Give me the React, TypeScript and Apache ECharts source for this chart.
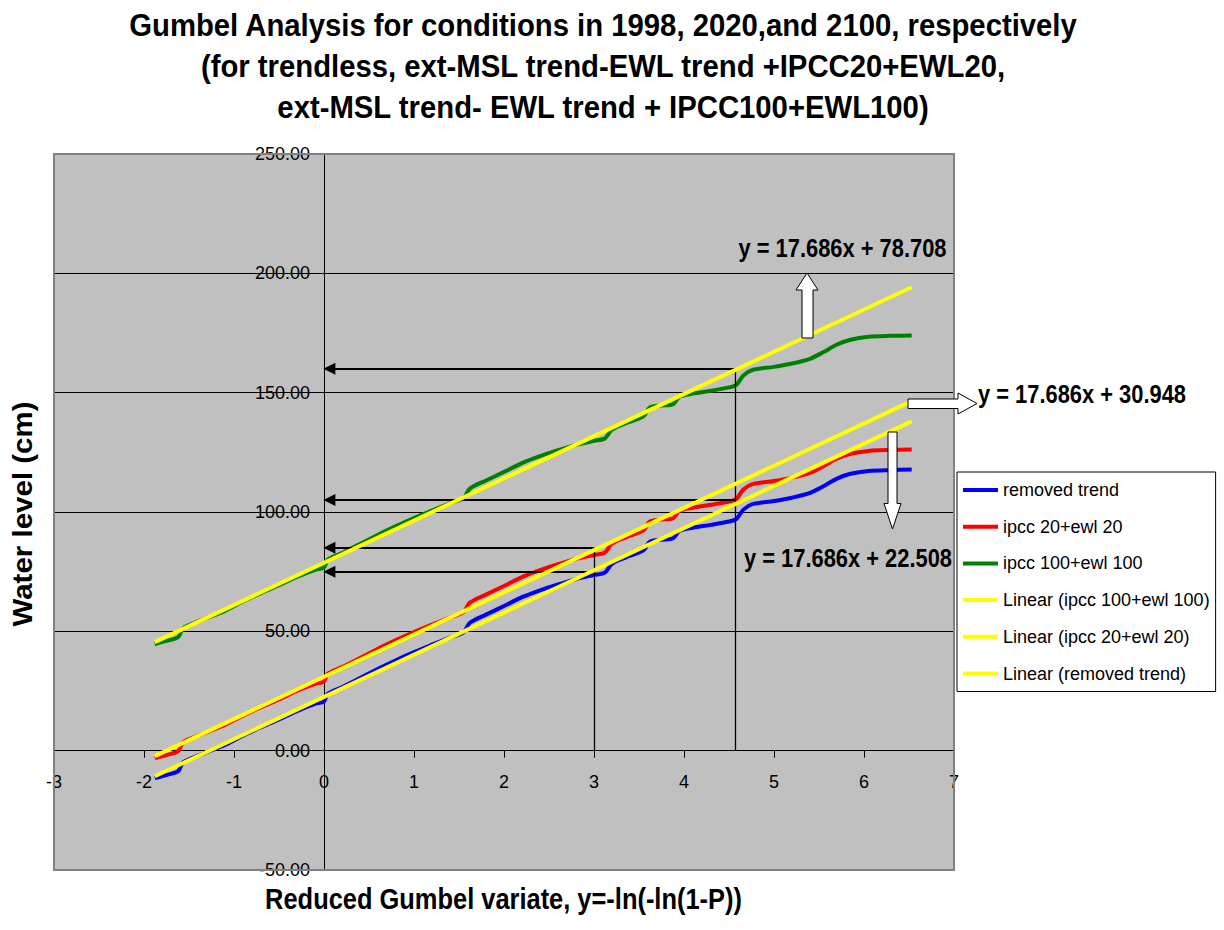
import React, { useEffect, useRef } from "react";
import * as echarts from "echarts";

// ---- data ----
const gumbelX = [-1.88, -1.75, -1.62, -1.57, -1.5, -1.3, -1.1, -0.9, -0.7, -0.5, -0.3, -0.1, 0.0, 0.04, 0.2, 0.4, 0.6, 0.8, 1.0, 1.2, 1.4, 1.55, 1.62, 1.8, 2.0, 2.2, 2.4, 2.6, 2.8, 3.0, 3.12, 3.2, 3.35, 3.55, 3.62, 3.75, 3.88, 3.95, 4.1, 4.3, 4.5, 4.58, 4.66, 4.76, 5.0, 5.2, 5.4, 5.55, 5.7, 5.85, 6.05, 6.3, 6.53];
const removedTrend = [-11.5, -10.2, -8.6, -5.0, -3.6, -0.6, 2.4, 6.3, 9.8, 13.1, 16.6, 19.6, 20.6, 23.8, 26.6, 30.4, 34.3, 37.9, 41.3, 44.4, 47.4, 49.6, 53.6, 57.0, 60.6, 64.3, 67.2, 69.7, 71.9, 73.6, 74.6, 78.3, 80.9, 83.9, 87.6, 88.4, 89.0, 92.1, 93.4, 94.6, 96.0, 97.0, 101.0, 103.3, 104.6, 106.0, 108.0, 110.8, 114.0, 116.0, 117.2, 117.6, 117.8];
const ipcc20 = [-3.1, -1.8, -0.2, 3.4, 4.8, 7.8, 10.8, 14.7, 18.2, 21.5, 25.0, 28.0, 29.0, 32.2, 35.0, 38.8, 42.7, 46.3, 49.7, 52.8, 55.8, 58.0, 62.0, 65.4, 69.0, 72.7, 75.6, 78.1, 80.3, 82.0, 83.0, 86.7, 89.3, 92.3, 96.0, 96.8, 97.4, 100.5, 101.8, 103.0, 104.4, 105.4, 109.4, 111.7, 113.0, 114.4, 116.4, 119.2, 122.4, 124.4, 125.6, 126.0, 126.2];
const ipcc100 = [44.7, 46.0, 47.6, 51.2, 52.6, 55.6, 58.6, 62.5, 66.0, 69.3, 72.8, 75.8, 76.8, 80.0, 82.8, 86.6, 90.5, 94.1, 97.5, 100.6, 103.6, 105.8, 109.8, 113.2, 116.8, 120.5, 123.4, 125.9, 128.1, 129.8, 130.8, 134.5, 137.1, 140.1, 143.8, 144.6, 145.2, 148.3, 149.6, 150.8, 152.2, 153.2, 157.2, 159.5, 160.8, 162.2, 164.2, 167.0, 170.2, 172.2, 173.4, 173.8, 174.0];

// linear trend lines (end points)
const trendX = [-1.88, 6.53];
const trendRemoved = [-10.74, 137.99];
const trend20 = [-2.3, 146.44];
const trend100 = [45.46, 194.19];

const seriesNames = [
  "removed trend",
  "ipcc 20+ewl 20",
  "ipcc 100+ewl 100",
  "Linear (ipcc 100+ewl 100)",
  "Linear (ipcc 20+ewl 20)",
  "Linear (removed trend)",
];

const equationLabels = ["y = 17.686x + 78.708", "y = 17.686x + 30.948", "y = 17.686x + 22.508"];

// reading arrows: level, starting x
const arrowLevels = [160, 105, 85, 75];
const arrowFromX = [4.57, 4.57, 3.0, 2.92];
const dropLinesX = [4.57, 3.0];
const dropLinesTop = [160, 85];

const xTicks = { min: -3, max: 7, step: 1 };
const yTicks = { min: -50, max: 250, step: 50 };

const titleLines = [
  "Gumbel Analysis for conditions in 1998, 2020,and 2100, respectively",
  "(for trendless, ext-MSL trend-EWL trend +IPCC20+EWL20,",
  "ext-MSL trend- EWL trend + IPCC100+EWL100)",
];
const xTitle = "Reduced Gumbel variate, y=-ln(-ln(1-P))";
const yTitle = "Water level (cm)";

const FONT = '"Liberation Sans", Arial, Helvetica, sans-serif';

const GRID = { left: 54, top: 154, width: 900, height: 716 };

function measure(text: string, font: string): number {
  const c = document.createElement("canvas").getContext("2d");
  if (!c) return 1;
  c.font = font;
  return c.measureText(text).width || 1;
}

function fitText(text: string, size: number, target: number, opts: any) {
  const font = `bold ${size}px ${FONT}`;
  const sx = target / measure(text, font);
  return {
    type: "text",
    z: 100,
    scaleX: sx,
    ...opts,
    style: {
      text,
      font,
      fill: "#000",
      align: "center",
      verticalAlign: "middle",
    },
  };
}

function zip(xs: number[], ys: number[]) {
  return xs.map((x, i) => [x, ys[i]]);
}

export default function App() {
  const ref = useRef<HTMLDivElement>(null);

  useEffect(() => {
    if (!ref.current) return;
    const chart = echarts.init(ref.current, null, { renderer: "svg" });

    const titleFont = `bold 31px ${FONT}`;
    const titleScale = 949 / measure(titleLines[0], titleFont);
    const titleY = [25.5, 66.5, 107.5];

    const graphics: any[] = [];
    titleLines.forEach((t, i) => {
      graphics.push({
        type: "text",
        z: 100,
        x: 603,
        y: titleY[i],
        scaleX: titleScale,
        style: { text: t, font: titleFont, fill: "#000", align: "center", verticalAlign: "middle" },
      });
    });
    graphics.push(fitText(xTitle, 29, 477, { x: 503.5, y: 899 }));
    graphics.push(fitText(yTitle, 28, 225, { x: 22, y: 514, rotation: Math.PI / 2 }));

    const eqPos = [
      [842.5, 248],
      [1082, 394],
      [848, 558],
    ];
    equationLabels.forEach((t, i) => {
      graphics.push(fitText(t, 25.5, 208, { x: eqPos[i][0], y: eqPos[i][1] }));
    });

    // plot frame on top of the split lines
    graphics.push({
      type: "rect",
      z: 90,
      shape: { x: GRID.left, y: GRID.top, width: GRID.width, height: GRID.height },
      style: { fill: "none", stroke: "#808080", lineWidth: 2 },
    });

    const arrowStyle = { fill: "#fff", stroke: "#000", lineWidth: 1 };
    graphics.push({
      type: "polygon",
      z: 95,
      shape: {
        points: [
          [807, 273], [818, 290], [813, 290], [813, 338], [802, 338], [802, 290], [796, 290],
        ],
      },
      style: arrowStyle,
    });
    graphics.push({
      type: "polygon",
      z: 95,
      shape: {
        points: [
          [977, 403.5], [958, 393], [958, 399], [908, 399], [908, 408.5], [958, 408.5], [958, 414],
        ],
      },
      style: arrowStyle,
    });
    graphics.push({
      type: "polygon",
      z: 95,
      shape: {
        points: [
          [892.5, 529], [901, 503.5], [897, 503.5], [897, 432], [888, 432], [888, 503.5], [884, 503.5],
        ],
      },
      style: arrowStyle,
    });

    const markData: any[] = [];
    arrowLevels.forEach((lv, i) => {
      markData.push([
        { coord: [arrowFromX[i], lv], symbol: "none" },
        { coord: [0.06, lv], symbol: "triangle" },
      ]);
    });
    dropLinesX.forEach((x, i) => {
      markData.push([
        { coord: [x, dropLinesTop[i]], symbol: "none", lineStyle: { width: 1.3 } },
        { coord: [x, 0], symbol: "none" },
      ]);
    });

    const lineSeries = (name: string, data: number[][], color: string, z: number) => ({
      name,
      type: "line",
      data,
      showSymbol: false,
      symbol: "none",
      smooth: 0.3,
      z,
      lineStyle: { color, width: 4 },
      itemStyle: { color },
      emphasis: { disabled: true },
    });

    const axisText = { color: "#000", fontFamily: FONT, fontSize: 18 };

    // put the axes through the origin (pixel offsets from the grid edges)
    const xAxisOffset = -GRID.height * (0 - yTicks.min) / (yTicks.max - yTicks.min);
    const yAxisOffset = -GRID.width * (0 - xTicks.min) / (xTicks.max - xTicks.min);

    chart.setOption({
      animation: false,
      grid: {
        ...GRID,
        show: true,
        backgroundColor: "#c0c0c0",
        borderWidth: 0,
        containLabel: false,
        outerBoundsMode: "none",
      },
      xAxis: {
        type: "value",
        min: xTicks.min,
        max: xTicks.max,
        interval: xTicks.step,
        position: "bottom",
        offset: xAxisOffset,
        axisLine: { onZero: false, lineStyle: { color: "#000", width: 1 } },
        axisTick: { show: true, length: 7, lineStyle: { color: "#000" } },
        axisLabel: { ...axisText, margin: 22, showMinLabel: true, showMaxLabel: true, hideOverlap: false },
        splitLine: { show: false },
      },
      yAxis: {
        type: "value",
        min: yTicks.min,
        max: yTicks.max,
        interval: yTicks.step,
        position: "left",
        offset: yAxisOffset,
        axisLine: { onZero: false, lineStyle: { color: "#000", width: 1 } },
        axisTick: { show: true, length: 6, lineStyle: { color: "#000" } },
        axisLabel: {
          ...axisText,
          margin: 14,
          showMinLabel: true,
          showMaxLabel: true,
          hideOverlap: false,
          formatter: (v: number) => v.toFixed(2),
        },
        splitLine: { show: true, lineStyle: { color: "#000", width: 1 } },
      },
      legend: {
        data: seriesNames,
        orient: "vertical",
        left: 957,
        top: 472,
        padding: [8, 6, 8, 6],
        itemGap: 16.7,
        itemWidth: 35,
        itemHeight: 4,
        icon: "rect",
        selectedMode: false,
        backgroundColor: "#fff",
        borderColor: "#000",
        borderWidth: 1,
        borderRadius: 0,
        textStyle: { color: "#000", fontFamily: FONT, fontSize: 18, lineHeight: 20 },
      },
      graphic: graphics,
      series: [
        lineSeries(seriesNames[0], zip(gumbelX, removedTrend), "#0000ff", 2),
        lineSeries(seriesNames[1], zip(gumbelX, ipcc20), "#ff0000", 3),
        lineSeries(seriesNames[2], zip(gumbelX, ipcc100), "#008000", 4),
        lineSeries(seriesNames[3], zip(trendX, trend100), "#ffff00", 5),
        lineSeries(seriesNames[4], zip(trendX, trend20), "#ffff00", 6),
        lineSeries(seriesNames[5], zip(trendX, trendRemoved), "#ffff00", 7),
        {
          name: "annotations",
          type: "line",
          data: [],
          z: 8,
          markLine: {
            silent: true,
            animation: false,
            symbol: ["none", "triangle"],
            symbolSize: [12, 12],
            label: { show: false },
            lineStyle: { color: "#000", width: 2, type: "solid" },
            emphasis: { disabled: true },
            data: markData,
          },
        },
      ],
    });

    return () => chart.dispose();
  }, []);

  return (
    <div
      ref={ref}
      style={{ position: "absolute", left: 0, top: 0, width: 1224, height: 930, background: "#fff" }}
    />
  );
}
